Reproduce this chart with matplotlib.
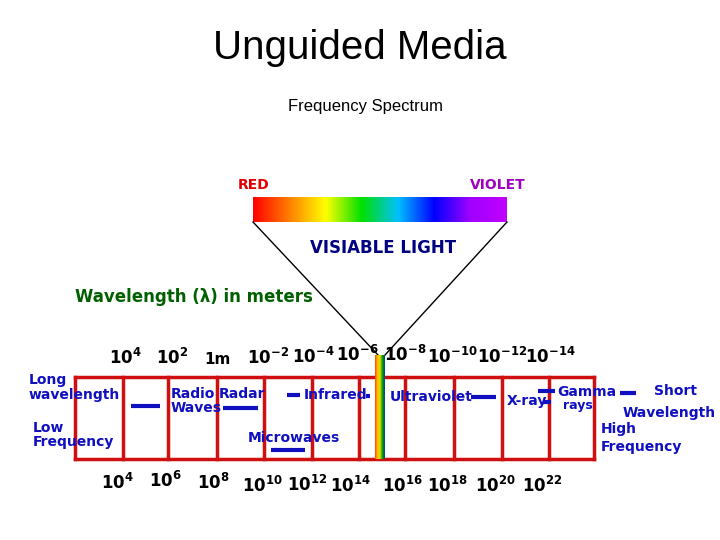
import matplotlib
matplotlib.use("Agg")
import matplotlib.pyplot as plt
import numpy as np
from matplotlib.colors import LinearSegmentedColormap

wavelength_labels = ["4", "2", "1m", "-2", "-4", "-6", "-8", "-10", "-12", "-14"]
wavelength_x = [125, 172, 218, 268, 313, 357, 405, 452, 502, 550]
wavelength_y = [358, 358, 360, 358, 357, 355, 355, 357, 357, 357]
frequency_labels = ["4", "6", "8", "10", "12", "14", "16", "18", "20", "22"]
frequency_x = [117, 165, 213, 262, 307, 350, 402, 447, 495, 542]
frequency_y = [483, 481, 483, 486, 485, 486, 486, 486, 486, 486]
dividers = [75, 123, 168, 217, 264, 312, 359, 405, 454, 502, 549, 594]

fig = plt.figure(figsize=(7.2, 5.4), dpi=100)
ax = fig.add_axes([0, 0, 1, 1])
ax.set_xlim(0, 720); ax.set_ylim(540, 0); ax.axis("off")

blue = "#1010c0"
ax.text(360, 48, "Unguided Media", ha="center", va="center", fontsize=29, family="Liberation Sans")
ax.text(365, 107, "Frequency Spectrum", ha="center", va="center", fontsize=12, family="Liberation Sans")

cmap = LinearSegmentedColormap.from_list("spec", ["#ff0000", "#ff8000", "#ffff00", "#00e000", "#00c0ff", "#0000ff", "#a000ff", "#c000ff"])
grad = np.linspace(0, 1, 256)[None, :]
ax.imshow(grad, cmap=cmap, extent=(253, 507, 222, 197), aspect="auto", zorder=1)
ax.text(238, 185, "RED", color="#e00000", fontsize=10, fontweight="bold", va="center")
ax.text(470, 185, "VIOLET", color="#a000c0", fontsize=10, fontweight="bold", va="center")
ax.plot([253, 378], [222, 355], color="black", lw=1)
ax.plot([507, 385], [222, 355], color="black", lw=1)
ax.text(310, 248, "VISIABLE LIGHT", color="#000080", fontsize=12, fontweight="bold", va="center")
ax.text(75, 297, "Wavelength (λ) in meters", color="#006000", fontsize=12, fontweight="bold", va="center")

# box
ax.plot([75, 594], [377, 377], color="#d01010", lw=2.5, zorder=2)
ax.plot([75, 594], [459, 459], color="#d01010", lw=2.5, zorder=2)
for x in dividers:
    ax.plot([x, x], [377, 459], color="#d01010", lw=2.5, zorder=2)
cmap2 = LinearSegmentedColormap.from_list("strip", ["#ff4000", "#ffc000", "#e0e000", "#00a000", "#0040a0"])
ax.imshow(grad, cmap=cmap2, extent=(375, 385, 459, 355), aspect="auto", zorder=3)

for lab, x, y in zip(wavelength_labels, wavelength_x, wavelength_y):
    if lab == "1m":
        ax.text(x, y, "1m", fontsize=11, fontweight="bold", ha="center", va="center")
    else:
        ax.text(x, y, r"$\mathbf{10^{%s}}$" % lab, fontsize=12, ha="center", va="center")
for lab, x, y in zip(frequency_labels, frequency_x, frequency_y):
    ax.text(x, y, r"$\mathbf{10^{%s}}$" % lab, fontsize=12, ha="center", va="center")

def t(x, y, s, size=10):
    ax.text(x, y, s, color=blue, fontsize=size, fontweight="bold", va="center", zorder=5)

t(29, 380, "Long"); t(29, 395, "wavelength")
t(33, 428, "Low"); t(33, 442, "Frequency")
t(171, 394, "Radio"); t(171, 408, "Waves"); t(219, 394, "Radar")
t(304, 395, "Infrared"); t(390, 397, "Ultraviolet")
t(248, 438, "Microwaves"); t(507, 401, "X-ray")
t(557, 392, "Gamma"); t(563, 405, "rays", size=9)
t(654, 391, "Short"); t(623, 413, "Wavelength")
t(601, 429, "High"); t(601, 447, "Frequency")

dashes = [(131, 160, 406), (223, 258, 408), (287, 300, 395), (366, 370, 396),
          (471, 496, 397), (538, 555, 391), (543, 551, 402), (620, 636, 393), (271, 305, 450)]
for x0, x1, y in dashes:
    ax.plot([x0, x1], [y, y], color=blue, lw=3, zorder=5, solid_capstyle="butt")

fig.savefig("out.png", dpi=100)
